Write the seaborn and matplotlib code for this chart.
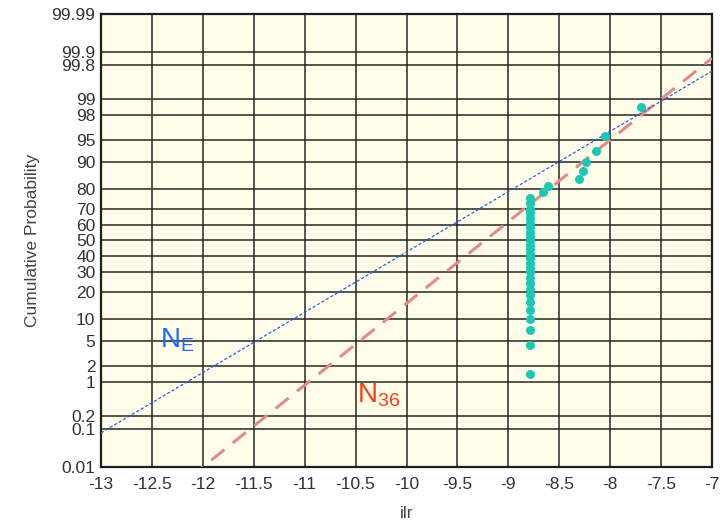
import numpy as np
import pandas as pd
import matplotlib
matplotlib.use("Agg")
import matplotlib.pyplot as plt
import matplotlib.ticker as mticker
import seaborn as sns
from statistics import NormalDist

# ilr values of the 35 samples (27 sit on the same value)
ilr_values = [-8.79] * 27 + [-8.655, -8.606, -8.31, -8.27, -8.236, -8.14, -8.05, -7.70]

# fitted normal lines
ne_mu, ne_sigma = -9.81, 1.01     # N_E
n36_mu, n36_sigma = -9.23, 0.745  # N_36

prob_ticks = [0.01, 0.1, 0.2, 1, 2, 5, 10, 20, 30, 40, 50, 60, 70, 80, 90, 95, 98, 99, 99.8, 99.9, 99.99]
prob_labels = ["0.01", "0.1", "0.2", "1", "2", "5", "10", "20", "30", "40", "50",
               "60", "70", "80", "90", "95", "98", "99", "99.8", "99.9", "99.99"]
x_ticks = [-13, -12.5, -12, -11.5, -11, -10.5, -10, -9.5, -9, -8.5, -8, -7.5, -7]
x_labels = ["-13", "-12.5", "-12", "-11.5", "-11", "-10.5", "-10", "-9.5", "-9", "-8.5", "-8", "-7.5", "-7"]

sns.set_theme(style="white")
plt.rcParams["font.family"] = ["Liberation Sans", "DejaVu Sans"]

nd = NormalDist()
_fwd = np.vectorize(lambda p: nd.inv_cdf(min(max(p / 100.0, 1e-12), 1 - 1e-12)), otypes=[float])
_inv = np.vectorize(lambda z: nd.cdf(z) * 100.0, otypes=[float])

def forward(p):
    return _fwd(np.asarray(p, dtype=float))

def inverse(z):
    return _inv(np.asarray(z, dtype=float))

# empirical cumulative probability (Hazen plotting positions)
vals = np.sort(np.array(ilr_values))
n = len(vals)
df = pd.DataFrame({"ilr": vals, "prob": (np.arange(1, n + 1) - 0.5) / n * 100})

fig = plt.figure(figsize=(7.21, 5.28), dpi=100)
ax = fig.add_axes([101 / 721, 1 - 467 / 528, (712 - 101) / 721, (467 - 14) / 528])
ax.set_facecolor("#fffde9")
ax.set_yscale("function", functions=(forward, inverse))
ax.set_xlim(-13, -7)
ax.set_ylim(0.01, 99.99)

xs = np.linspace(-13, -7, 200)
ax.plot(xs, [NormalDist(n36_mu, n36_sigma).cdf(x) * 100 for x in xs],
        color="#e3898a", lw=2.2, dashes=(5.5, 3.5), zorder=3)
ax.plot(xs, [NormalDist(ne_mu, ne_sigma).cdf(x) * 100 for x in xs],
        color="#1f62e8", lw=0.9, dashes=(2.5, 1.6), zorder=3)

sns.scatterplot(data=df, x="ilr", y="prob", ax=ax, color="#1cc7b3", s=42,
                linewidth=0, zorder=4, legend=False)

ax.set_xlim(-13, -7)
ax.set_ylim(0.01, 99.99)
ax.yaxis.set_major_locator(mticker.FixedLocator(prob_ticks))
ax.yaxis.set_major_formatter(mticker.FixedFormatter(prob_labels))
ax.yaxis.set_minor_locator(mticker.NullLocator())
ax.set_xticks(x_ticks)
ax.set_xticklabels(x_labels)

ax.grid(True, color="#262626", lw=1.1)
ax.set_axisbelow(True)
for sp in ax.spines.values():
    sp.set_color("#1e1e1e")
    sp.set_linewidth(1.6)

ax.tick_params(axis="both", length=0, labelsize=12.5, labelcolor="#333333")
ax.tick_params(axis="x", pad=7)
ax.tick_params(axis="y", pad=4)
ax.set_xlabel("ilr", fontsize=12.5, color="#444444", labelpad=10)
ax.set_ylabel("Cumulative Probability", fontsize=12.5, color="#444444", labelpad=8)

ax.text(-12.42, 4.0, r"$\mathregular{N_{E}}$", color="#1a66ff", fontsize=20)
ax.text(-10.49, 0.39, r"$\mathregular{N_{36}}$", color="#ff3a10", fontsize=20)

fig.savefig("out.png", dpi=100)
